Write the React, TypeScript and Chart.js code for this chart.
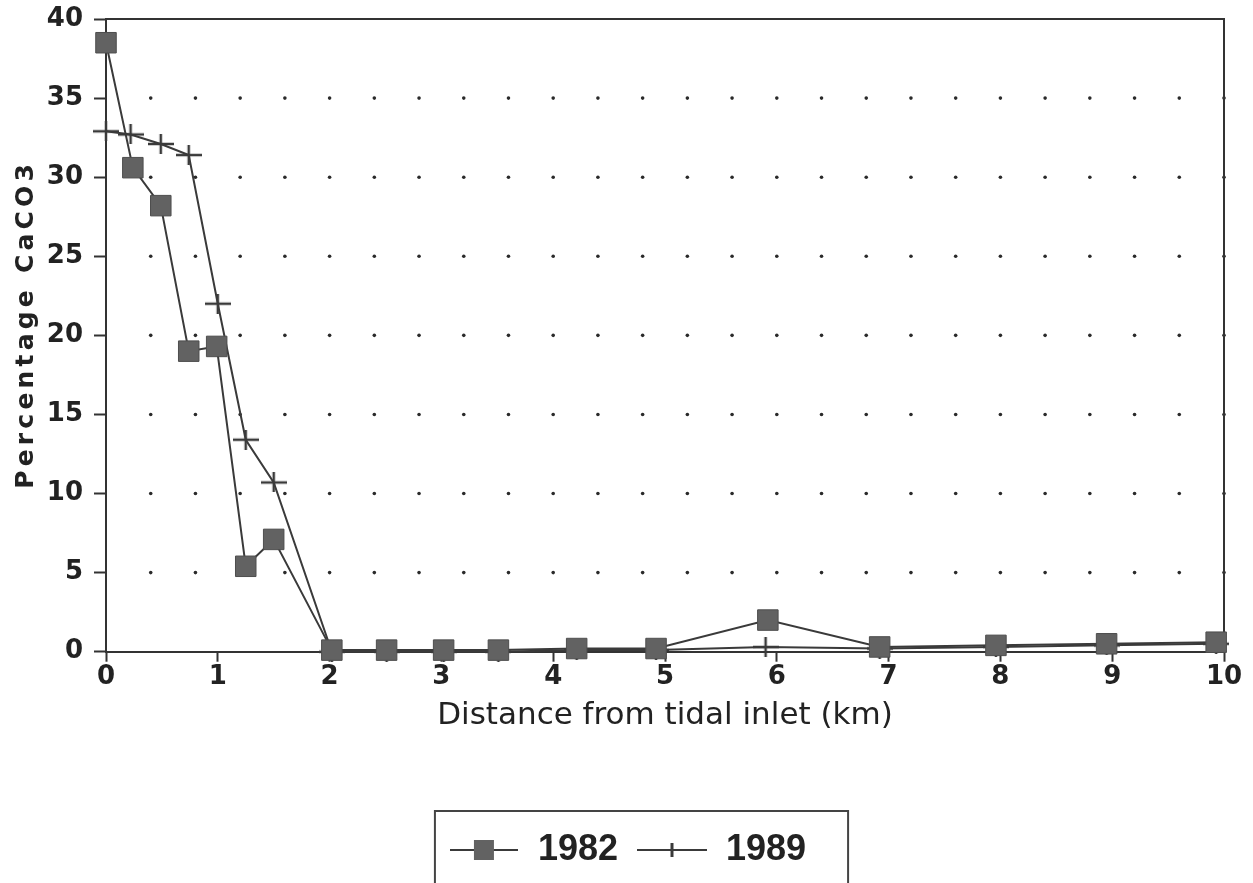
import { useEffect, useRef } from 'react';
import { Chart, registerables } from 'chart.js';

Chart.register(...registerables);

// Distance from tidal inlet (km) and percentage CaCO3
const distance1982 = [0, 0.24, 0.49, 0.74, 0.99, 1.25, 1.5, 2.02, 2.51, 3.02, 3.51, 4.21, 4.92, 5.92, 6.92, 7.96, 8.95, 9.93];
const caco3_1982 = [38.5, 30.6, 28.2, 19.0, 19.3, 5.4, 7.1, 0.1, 0.1, 0.1, 0.1, 0.2, 0.2, 2.0, 0.3, 0.4, 0.5, 0.6];

const distance1989 = [0, 0.22, 0.49, 0.74, 1.0, 1.25, 1.5, 2.02, 2.51, 3.02, 3.51, 4.21, 4.92, 5.9, 6.92, 7.96, 8.95, 9.93];
const caco3_1989 = [32.9, 32.7, 32.1, 31.4, 22.0, 13.4, 10.7, 0, 0, 0, 0, 0.1, 0.1, 0.3, 0.2, 0.3, 0.4, 0.5];

const seriesLabels = ['1982', '1989'];

const xTicks = [0, 1, 2, 3, 4, 5, 6, 7, 8, 9, 10];
const yTicks = [0, 5, 10, 15, 20, 25, 30, 35, 40];

// dotted grid positions
const dotColumns = [0.4, 0.8, 1.2, 1.6, 2.0, 2.4, 2.8, 3.2, 3.6, 4.0, 4.4, 4.8, 5.2, 5.6, 6.0, 6.4, 6.8, 7.2, 7.6, 8.0, 8.4, 8.8, 9.2, 9.6, 10.0];
const dotRows = [5, 10, 15, 20, 25, 30, 35];

const xTitle = 'Distance from tidal inlet (km)';
const yTitle = 'Percentage CaCO3';

const LINE = '#3a3a3a';
const AXIS = '#333333';
const SQUARE_FILL = '#626262';
const SQUARE_EDGE = '#4e4e4e';
const TEXT = '#222222';

function makePlus(w: number, h: number, lw: number) {
  const c = document.createElement('canvas');
  c.width = w;
  c.height = h;
  const g = c.getContext('2d')!;
  g.strokeStyle = LINE;
  g.lineWidth = lw;
  g.beginPath();
  g.moveTo(0, h / 2);
  g.lineTo(w, h / 2);
  g.moveTo(w / 2, 0);
  g.lineTo(w / 2, h);
  g.stroke();
  return c;
}

function makeLegendSquare() {
  const c = document.createElement('canvas');
  c.width = 68;
  c.height = 24;
  const g = c.getContext('2d')!;
  g.strokeStyle = LINE;
  g.lineWidth = 2;
  g.beginPath();
  g.moveTo(0, 12);
  g.lineTo(68, 12);
  g.stroke();
  g.fillStyle = SQUARE_FILL;
  g.fillRect(24, 2, 20, 20);
  return c;
}

function makeLegendPlus() {
  const c = document.createElement('canvas');
  c.width = 70;
  c.height = 24;
  const g = c.getContext('2d')!;
  g.strokeStyle = LINE;
  g.lineWidth = 2;
  g.beginPath();
  g.moveTo(0, 12);
  g.lineTo(70, 12);
  g.stroke();
  g.lineWidth = 3;
  g.beginPath();
  g.moveTo(35, 5);
  g.lineTo(35, 19);
  g.stroke();
  return c;
}

const framePlugin = {
  id: 'frameAndDots',
  beforeDatasetsDraw(chart: any) {
    const { ctx, chartArea, scales } = chart;
    const xs = scales.x;
    const ys = scales.y;
    ctx.save();
    ctx.fillStyle = '#2a2a2a';
    for (const r of dotRows) {
      const py = ys.getPixelForValue(r);
      for (const cx of dotColumns) {
        const px = xs.getPixelForValue(cx);
        ctx.beginPath();
        ctx.arc(px, py, 1.8, 0, Math.PI * 2);
        ctx.fill();
      }
    }
    ctx.strokeStyle = AXIS;
    ctx.lineWidth = 2;
    ctx.beginPath();
    ctx.moveTo(chartArea.left, chartArea.top);
    ctx.lineTo(chartArea.right, chartArea.top);
    ctx.lineTo(chartArea.right, chartArea.bottom);
    ctx.stroke();
    ctx.restore();
  },
  afterDraw(chart: any) {
    const { ctx, chartArea } = chart;
    // rotated y title with wide letter spacing
    ctx.save();
    ctx.font = 'bold 25px "DejaVu Sans"';
    try {
      (ctx as any).letterSpacing = '4.2px';
    } catch (e) {}
    ctx.fillStyle = TEXT;
    ctx.translate(chartArea.left - 80, (chartArea.top + chartArea.bottom) / 2 - 11);
    ctx.rotate(-Math.PI / 2);
    ctx.textAlign = 'center';
    ctx.textBaseline = 'middle';
    ctx.fillText(yTitle, 0, 0);
    ctx.restore();

    // legend frame
    const lg = chart.legend;
    if (lg && lg.legendHitBoxes && lg.legendHitBoxes.length) {
      const boxes = lg.legendHitBoxes;
      const first = boxes[0];
      const last = boxes[boxes.length - 1];
      const left = first.left - 13;
      const right = last.left + last.width + 42;
      const top = lg.top - 3;
      ctx.save();
      ctx.strokeStyle = '#444';
      ctx.lineWidth = 2;
      ctx.beginPath();
      ctx.moveTo(left, chart.height + 5);
      ctx.lineTo(left, top);
      ctx.lineTo(right, top);
      ctx.lineTo(right, chart.height + 5);
      ctx.stroke();
      ctx.restore();
    }
  },
};

export default function App() {
  const ref = useRef<HTMLCanvasElement | null>(null);

  useEffect(() => {
    document.body.style.margin = '0';
    if (!ref.current) return;
    const plus = makePlus(26, 20, 2.5);
    const legSquare = makeLegendSquare();
    const legPlus = makeLegendPlus();

    const chart = new Chart(ref.current, {
      type: 'line',
      data: {
        datasets: [
          {
            label: seriesLabels[0],
            data: distance1982.map((x, i) => ({ x, y: caco3_1982[i] })),
            borderColor: LINE,
            borderWidth: 2,
            tension: 0,
            pointStyle: 'rect',
            pointRadius: 14.5,
            pointBackgroundColor: SQUARE_FILL,
            pointBorderColor: SQUARE_EDGE,
            pointBorderWidth: 1,
            fill: false,
            clip: false,
          },
          {
            label: seriesLabels[1],
            data: distance1989.map((x, i) => ({ x, y: caco3_1989[i] })),
            borderColor: LINE,
            borderWidth: 2,
            tension: 0,
            pointStyle: plus as any,
            pointRadius: 12,
            fill: false,
            clip: false,
          },
        ],
      },
      options: {
        animation: false,
        responsive: false,
        maintainAspectRatio: false,
        events: [],
        layout: { padding: { top: 19, right: 29, bottom: 5, left: 30 } },
        scales: {
          x: {
            type: 'linear',
            min: 0,
            max: 10,
            afterBuildTicks: (s: any) => {
              s.ticks = xTicks.map((v) => ({ value: v }));
            },
            grid: { drawOnChartArea: false, drawTicks: true, tickLength: 10, tickWidth: 2, tickColor: AXIS },
            border: { display: true, color: AXIS, width: 2 },
            ticks: {
              padding: 0,
              color: TEXT,
              autoSkip: false,
              maxRotation: 0,
              font: { family: '"DejaVu Sans"', size: 26, weight: 'bold' },
            },
            title: {
              display: true,
              text: xTitle,
              color: TEXT,
              font: { family: '"DejaVu Sans"', size: 31, weight: 'normal' },
              padding: { top: 4.5, bottom: 79.4 },
            },
          },
          y: {
            type: 'linear',
            min: 0,
            max: 40,
            afterBuildTicks: (s: any) => {
              s.ticks = yTicks.map((v) => ({ value: v }));
            },
            afterFit: (s: any) => {
              s.width = 76;
              s.paddingTop = 0;
              s.paddingBottom = 0;
            },
            grid: { drawOnChartArea: false, drawTicks: true, tickLength: 12, tickWidth: 2, tickColor: AXIS },
            border: { display: true, color: AXIS, width: 2 },
            ticks: {
              padding: 11,
              color: TEXT,
              font: { family: '"DejaVu Sans"', size: 26, weight: 'bold' },
            },
          },
        },
        plugins: {
          title: { display: false },
          tooltip: { enabled: false },
          legend: {
            display: true,
            position: 'bottom',
            align: 'center',
            labels: {
              usePointStyle: true,
              pointStyleWidth: 72,
              padding: 18,
              color: TEXT,
              font: { family: '"Liberation Sans"', size: 36, weight: 'bold' },
              generateLabels: () => [
                { text: seriesLabels[0], pointStyle: legSquare as any, fillStyle: 'transparent', strokeStyle: 'transparent', lineWidth: 0, hidden: false, datasetIndex: 0, fontColor: TEXT } as any,
                { text: seriesLabels[1], pointStyle: legPlus as any, fillStyle: 'transparent', strokeStyle: 'transparent', lineWidth: 0, hidden: false, datasetIndex: 1, fontColor: TEXT } as any,
              ],
            },
          },
        },
      } as any,
      plugins: [framePlugin],
    });
    return () => chart.destroy();
  }, []);

  return (
    <div style={{ width: 1253, height: 883, background: '#fff' }}>
      <canvas ref={ref} width={1253} height={883} style={{ display: 'block' }} />
    </div>
  );
}
